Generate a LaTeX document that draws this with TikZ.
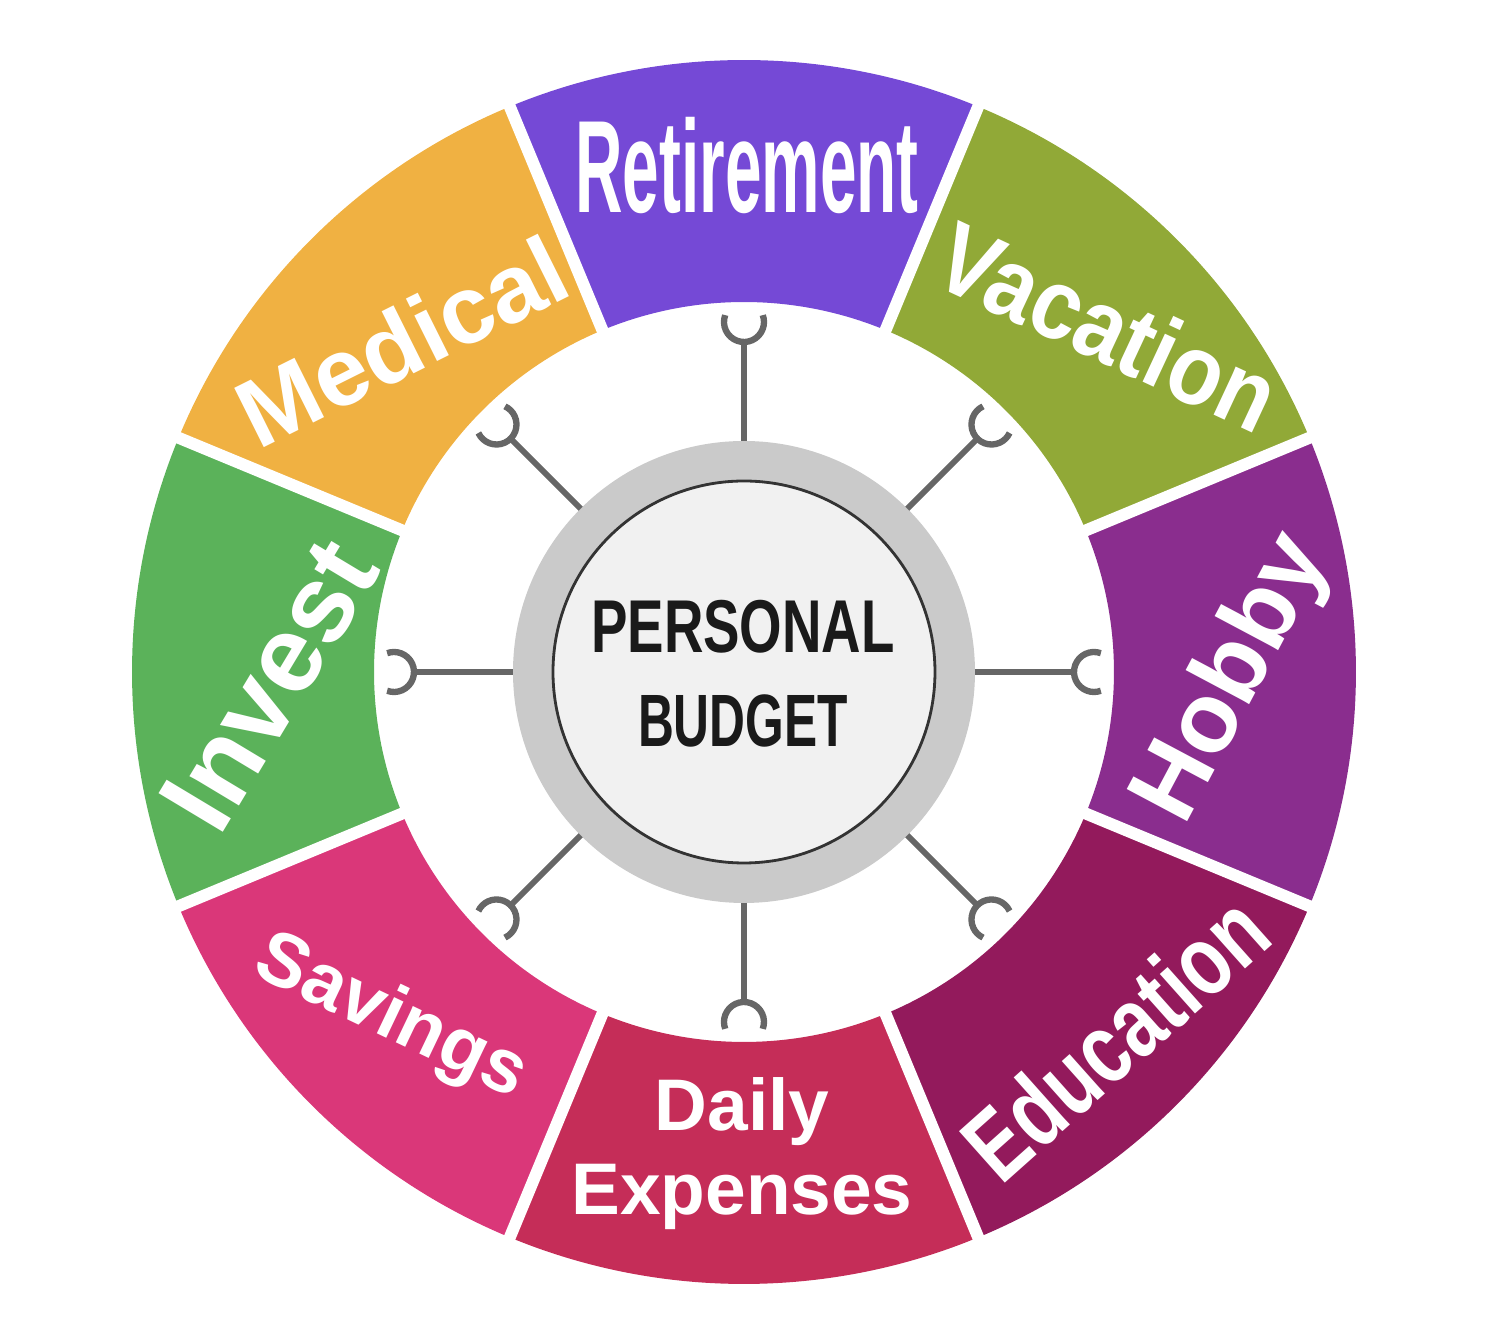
\documentclass[tikz,border=0pt]{standalone}
\usepackage{fontspec}
\usepackage{graphicx}
\setmainfont{Liberation Sans}
\usetikzlibrary{positioning}
\definecolor{retire}{HTML}{7549D6}
\definecolor{vacation}{HTML}{91A937}
\definecolor{hobby}{HTML}{8A2D8E}
\definecolor{educ}{HTML}{931A5C}
\definecolor{daily}{HTML}{C52D58}
\definecolor{savings}{HTML}{DA3779}
\definecolor{invest}{HTML}{5BB25A}
\definecolor{medical}{HTML}{F0B142}
\definecolor{ringgray}{HTML}{CACACA}
\definecolor{coregray}{HTML}{F1F1F1}
\definecolor{coreline}{HTML}{333333}
\definecolor{spokegray}{HTML}{666666}
\definecolor{ink}{HTML}{1A1A1A}
\newcommand{\lblfont}[1]{\fontsize{#1}{#1}\selectfont\bfseries}

\begin{document}
\begin{tikzpicture}[
    gap/.style={draw=white, line width=3.4pt},
    spoke/.style={draw=spokegray, line width=1.7pt},
    hook/.style={draw=spokegray, line width=1.8pt},
    lbl/.style={text=white, inner sep=0pt, anchor=base},
    core/.style={circle, inner sep=0pt, outer sep=0pt},
]
\useasboundingbox (-7.44,-6.62) rectangle (7.44,6.72);

% ring of segments
\foreach \ang/\col in {90/retire, 45/vacation, 0/hobby, -45/educ,
                       -90/daily, -135/savings, 180/invest, 135/medical}
  \fill[\col] ({\ang-22.5}:6.12) arc[start angle=\ang-22.5, end angle=\ang+22.5, radius=6.12]
    -- ({\ang+22.5}:3.70) arc[start angle=\ang+22.5, end angle=\ang-22.5, radius=3.70] -- cycle;
\foreach \ang in {22.5, 67.5, ..., 337.5}
  \draw[gap] (\ang:3.5) -- (\ang:6.3);

% centre
\node[core, fill=ringgray, minimum size=4.62cm] (ring) at (0,0) {};
\node[core, fill=coregray, draw=coreline, line width=0.8pt, minimum size=3.82cm] (disc) at (0,0) {};

% spokes and hooks
\foreach \ang [count=\i] in {90, 45, 0, -45, -90, -135, 180, 135} {
  \coordinate (h\i) at (\ang:3.50);
  \coordinate (s\i) at (\ang:3.30);
  \draw[spoke] (ring.\ang) -- (s\i);
  \draw[hook] (h\i) ++({\ang+70}:0.20) arc[start angle=\ang+70, end angle=\ang+290, radius=0.20];
}

% labels
\node[lbl] (retirement) at (0.03,4.59) {\lblfont{37.4}\scalebox{0.5}[1]{Retirement}};
\node[lbl, rotate=-25] (vacation) at (3.49,3.13) {\lblfont{28.5}\scalebox{0.88}[1]{Vacation}};
\node[lbl, rotate=62] (hobbylbl) at (5.13,-0.19) {\lblfont{28.3}Hobby};
\node[lbl, rotate=41.7] (education) at (3.95,-3.92) {\lblfont{28.5}\scalebox{0.76}[1]{Education}};
\node[lbl] (dailylbl) at (-0.02,-4.59) {\lblfont{20.8}Daily};
\node[lbl] (expenses) at (-0.02,-5.43) {\lblfont{20.8}Expenses};
\node[lbl, rotate=-25.5] (savingslbl) at (-3.62,-3.64) {\lblfont{21.6}Savings};
\node[lbl, rotate=59] (investlbl) at (-4.43,-0.32) {\lblfont{31}Invest};
\node[lbl, rotate=26.5] (medicallbl) at (-3.27,3.00) {\lblfont{27.4}Medical};

\node[lbl, text=ink] (personal) at (-0.01,0.19) {\lblfont{21.3}\scalebox{0.73}[1]{PERSONAL}};
\node[lbl, text=ink] (budget) at (-0.01,-0.75) {\lblfont{21.1}\scalebox{0.67}[1]{BUDGET}};
\end{tikzpicture}
\end{document}
